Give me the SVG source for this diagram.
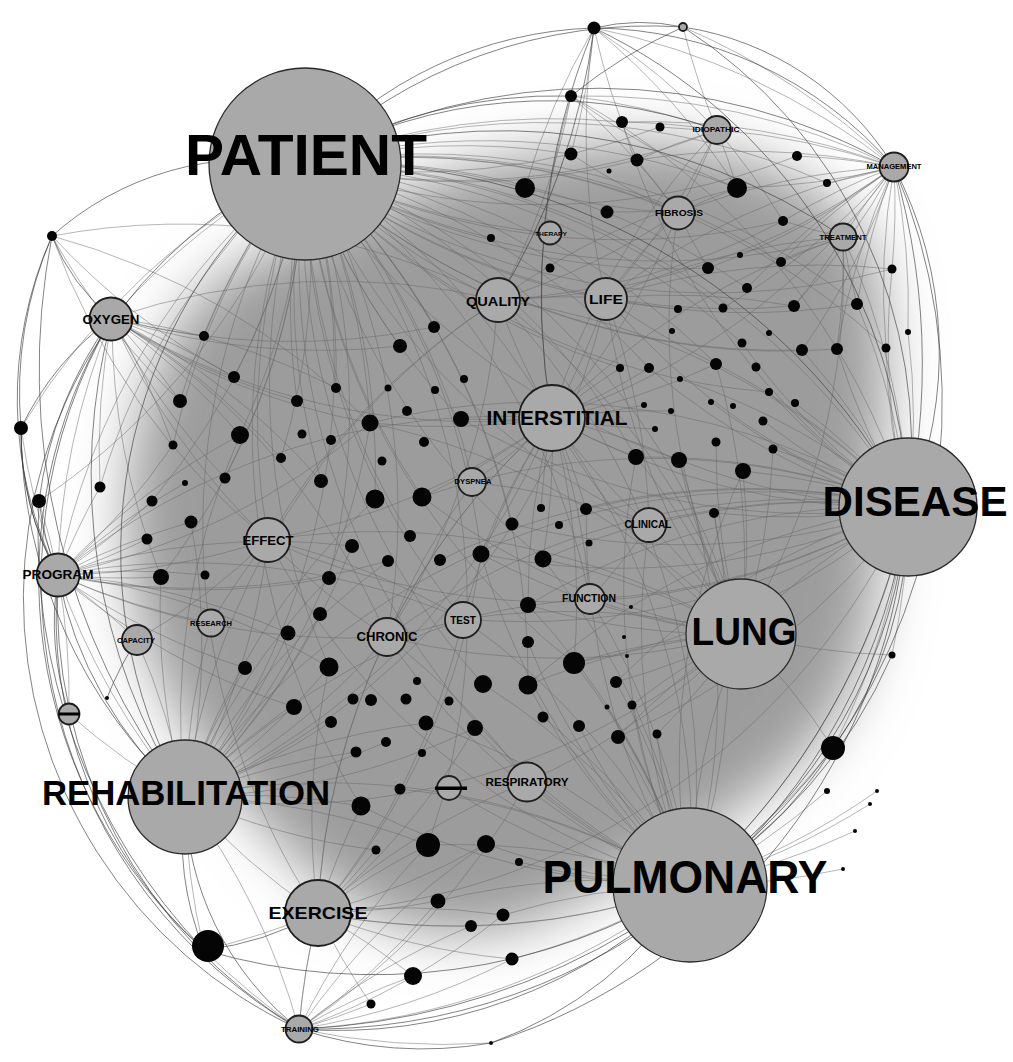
<svg xmlns="http://www.w3.org/2000/svg" width="1013" height="1062" viewBox="0 0 1013 1062">
<style>
.c path{fill:none;stroke:#666;stroke-width:.8;stroke-opacity:.6}
.c path.h{stroke:#3a3a3a;stroke-width:.9;stroke-opacity:.7}
.g{fill:#a9a9a9;stroke:#1e1e1e;stroke-width:1.8}
.G{fill:#a9a9a9;stroke:#2a2a2a;stroke-width:1.3}
.k circle{fill:#050505}
text{font-family:"Liberation Sans",Arial,Helvetica,sans-serif;font-weight:700;text-anchor:middle;fill:#000}
</style>
<defs>
<filter id="bl" x="-30%" y="-30%" width="160%" height="160%"><feGaussianBlur stdDeviation="28"/></filter>
</defs>
<rect width="1013" height="1062" fill="#fff"/>
<path d="M240 265 C330 225 430 170 540 155 C660 125 790 150 865 235 C900 330 880 430 880 520 C880 620 860 700 800 760 C720 830 640 870 560 910 C480 950 400 940 330 890 C260 830 200 760 160 680 C120 600 120 500 140 420 C160 340 190 295 240 265Z" fill="#9c9c9c" filter="url(#bl)"/>
<g id="connectors" class="c">
<path d="M305 164A700 700 0 0 1 552 418"/><path d="M305 164A700 700 0 0 0 498 300"/><path d="M305 164A700 700 0 0 1 606 298"/><path d="M305 164A700 700 0 0 0 268 540"/><path d="M305 164A700 700 0 0 1 387 637"/><path d="M305 164A700 700 0 0 0 463 619"/><path d="M305 164A700 700 0 0 1 908 507"/><path d="M305 164A700 700 0 0 0 690 885"/><path d="M305 164A700 700 0 0 1 741 634"/><path d="M305 164A700 700 0 0 1 185 797"/><path d="M305 164A700 700 0 0 0 318 913"/><path d="M305 164A700 700 0 0 0 112 318"/><path d="M305 164A700 700 0 0 0 58 575"/><path d="M305 164A700 700 0 0 1 525 188"/><path d="M305 164A700 700 0 0 0 491 238"/><path d="M305 164A700 700 0 0 1 434 327"/><path d="M305 164A700 700 0 0 0 400 346"/><path d="M305 164A700 700 0 0 1 234 377"/><path d="M305 164A700 700 0 0 0 180 401"/><path d="M305 164A700 700 0 0 1 336 388"/><path d="M305 164A700 700 0 0 0 297 401"/><path d="M305 164A700 700 0 0 1 370 423"/><path d="M305 164A700 700 0 0 0 461 419"/><path d="M305 164A700 700 0 0 1 240 435"/><path d="M305 164A700 700 0 0 0 321 481"/><path d="M305 164A700 700 0 0 1 375 499"/><path d="M305 164A700 700 0 0 0 422 497"/><path d="M305 164A700 700 0 0 1 481 554"/><path d="M305 164A700 700 0 0 0 543 559"/><path d="M305 164A700 700 0 0 1 329 578"/><path d="M305 164A700 700 0 0 0 329 667"/><path d="M305 164A700 700 0 0 1 528 685"/><path d="M305 164A700 700 0 0 0 574 663"/><path d="M305 164A700 700 0 0 1 636 457"/><path d="M305 164A700 700 0 0 0 679 460"/><path d="M305 164A700 700 0 0 1 716 364"/><path d="M305 164A700 700 0 0 0 708 268"/><path d="M305 164A700 700 0 0 1 678 213"/><path d="M305 164A700 700 0 0 0 550 233"/><path d="M305 164A700 700 0 0 1 473 482"/><path d="M305 164A700 700 0 0 0 649 525"/><path d="M305 164A700 700 0 0 1 590 599"/><path d="M305 164A700 700 0 0 0 483 684"/><path d="M305 164A700 700 0 0 1 428 845"/><path d="M305 164A700 700 0 0 0 361 806"/><path d="M305 164A700 700 0 0 1 571 154"/><path d="M305 164A700 700 0 0 0 637 160"/><path d="M305 164A700 700 0 0 1 747 288"/><path d="M305 164A700 700 0 0 0 802 350"/><path d="M305 164A700 700 0 0 1 161 577"/><path d="M305 164A700 700 0 0 0 204 336"/><path d="M305 164A700 700 0 0 1 281 458"/><path d="M305 164A700 700 0 0 0 410 536"/><path d="M305 164A700 700 0 0 1 512 524"/>
<path d="M305 164A700 700 0 0 1 622 122"/><path d="M305 164A700 700 0 0 0 660 127"/><path d="M305 164A700 700 0 0 1 737 188"/><path d="M305 164A700 700 0 0 0 797 156"/><path d="M305 164A700 700 0 0 1 827 183"/><path d="M305 164A700 700 0 0 0 783 221"/><path d="M305 164A700 700 0 0 1 781 262"/><path d="M305 164A700 700 0 0 0 794 306"/><path d="M305 164A700 700 0 0 1 857 304"/><path d="M305 164A700 700 0 0 0 837 349"/><path d="M305 164A700 700 0 0 1 886 348"/><path d="M305 164A700 700 0 0 0 892 269"/><path d="M305 164A700 700 0 0 1 723 308"/><path d="M305 164A700 700 0 0 0 678 309"/><path d="M305 164A700 700 0 0 1 742 343"/><path d="M305 164A700 700 0 0 0 769 392"/><path d="M305 164A700 700 0 0 1 649 368"/><path d="M305 164A700 700 0 0 0 620 368"/><path d="M305 164A700 700 0 0 0 717 130"/><path d="M305 164A700 700 0 0 0 843 237"/><path d="M305 164A700 700 0 0 0 21 428"/><path d="M305 164A700 700 0 0 1 39 501"/><path d="M305 164A700 700 0 0 0 100 487"/><path d="M305 164A700 700 0 0 1 152 501"/><path d="M305 164A700 700 0 0 0 173 445"/><path d="M305 164A700 700 0 0 1 225 478"/>
<path d="M594 28A700 700 0 0 0 525 188"/><path d="M594 28A700 700 0 0 1 571 154"/><path d="M594 28A700 700 0 0 0 637 160"/><path d="M594 28A700 700 0 0 1 737 188"/><path d="M594 28A700 700 0 0 0 606 298"/><path d="M571 96A700 700 0 0 1 498 300"/><path d="M571 96A700 700 0 0 0 552 418"/><path d="M571 96A700 700 0 0 1 678 213"/><path d="M571 96A700 700 0 0 0 737 188"/><path d="M498 300A700 700 0 0 1 737 188"/><path d="M498 300A700 700 0 0 0 783 221"/><path d="M606 298A700 700 0 0 1 794 306"/><path d="M606 298A700 700 0 0 0 857 304"/><path d="M606 298A700 700 0 0 1 892 269"/><path d="M112 318A700 700 0 0 1 387 637"/><path d="M112 318A700 700 0 0 0 161 577"/><path d="M52 236A700 700 0 0 1 498 300"/><path d="M908 507A700 700 0 0 0 571 96"/><path d="M908 507A700 700 0 0 1 622 122"/>
<path d="M908 507A700 700 0 0 1 552 418"/><path d="M908 507A700 700 0 0 0 741 634"/><path d="M908 507A700 700 0 0 1 690 885"/><path d="M908 507A700 700 0 0 0 649 525"/><path d="M908 507A700 700 0 0 1 590 599"/><path d="M908 507A700 700 0 0 0 498 300"/><path d="M908 507A700 700 0 0 1 606 298"/><path d="M908 507A700 700 0 0 0 636 457"/><path d="M908 507A700 700 0 0 1 679 460"/><path d="M908 507A700 700 0 0 0 743 471"/><path d="M908 507A700 700 0 0 1 714 513"/><path d="M908 507A700 700 0 0 0 773 449"/><path d="M908 507A700 700 0 0 1 763 421"/><path d="M908 507A700 700 0 0 0 802 350"/><path d="M908 507A700 700 0 0 1 837 349"/><path d="M908 507A700 700 0 0 0 857 304"/><path d="M908 507A700 700 0 0 1 886 348"/><path d="M908 507A700 700 0 0 0 716 364"/><path d="M908 507A700 700 0 0 1 649 368"/><path d="M908 507A700 700 0 0 0 543 559"/><path d="M908 507A700 700 0 0 1 574 663"/><path d="M908 507A700 700 0 0 0 528 605"/><path d="M908 507A700 700 0 0 1 481 554"/><path d="M908 507A700 700 0 0 0 422 497"/><path d="M908 507A700 700 0 0 1 461 419"/><path d="M908 507A700 700 0 0 0 370 423"/><path d="M908 507A700 700 0 0 1 268 540"/><path d="M908 507A700 700 0 0 0 387 637"/><path d="M908 507A700 700 0 0 1 463 619"/><path d="M908 507A700 700 0 0 0 185 797"/><path d="M908 507A700 700 0 0 1 318 913"/><path d="M908 507A700 700 0 0 1 833 748"/><path d="M908 507A700 700 0 0 1 892 655"/><path d="M908 507A700 700 0 0 0 843 237"/><path d="M908 507A700 700 0 0 1 892 269"/><path d="M908 507A700 700 0 0 0 908 332"/><path d="M908 507A700 700 0 0 0 528 685"/><path d="M908 507A700 700 0 0 1 618 737"/><path d="M908 507A700 700 0 0 0 616 682"/><path d="M908 507A700 700 0 0 1 769 392"/><path d="M908 507A700 700 0 0 0 795 403"/><path d="M908 507A700 700 0 0 1 742 343"/><path d="M908 507A700 700 0 0 0 680 379"/><path d="M908 507A700 700 0 0 1 711 402"/><path d="M908 507A700 700 0 0 0 440 560"/><path d="M908 507A700 700 0 0 1 512 524"/><path d="M908 507A700 700 0 0 0 586 509"/>
<path d="M690 885A700 700 0 0 1 741 634"/><path d="M690 885A700 700 0 0 0 552 418"/><path d="M690 885A700 700 0 0 1 527 782"/><path d="M690 885A700 700 0 0 0 463 619"/><path d="M690 885A700 700 0 0 1 387 637"/><path d="M690 885A700 700 0 0 0 590 599"/><path d="M690 885A700 700 0 0 1 649 525"/><path d="M690 885A700 700 0 0 0 574 663"/><path d="M690 885A700 700 0 0 1 528 685"/><path d="M690 885A700 700 0 0 0 483 684"/><path d="M690 885A700 700 0 0 1 475 728"/><path d="M690 885A700 700 0 0 0 618 737"/><path d="M690 885A700 700 0 0 1 579 726"/><path d="M690 885A700 700 0 0 0 616 682"/><path d="M690 885A700 700 0 0 1 657 734"/><path d="M690 885A700 700 0 0 0 528 605"/><path d="M690 885A700 700 0 0 1 528 642"/><path d="M690 885A700 700 0 0 0 428 845"/><path d="M690 885A700 700 0 0 1 486 844"/><path d="M690 885A700 700 0 0 0 503 915"/><path d="M690 885A700 700 0 0 1 512 959"/><path d="M690 885A700 700 0 0 0 833 748"/><path d="M690 885A700 700 0 0 0 827 791"/><path d="M690 885A700 700 0 0 0 855 831"/><path d="M690 885A700 700 0 0 0 843 869"/><path d="M690 885A700 700 0 0 0 877 791"/><path d="M690 885A700 700 0 0 0 870 804"/><path d="M690 885A700 700 0 0 1 318 913"/><path d="M690 885A700 700 0 0 0 185 797"/><path d="M690 885A700 700 0 0 1 299 1029"/><path d="M690 885A700 700 0 0 1 481 554"/><path d="M690 885A700 700 0 0 0 543 559"/><path d="M690 885A700 700 0 0 1 636 457"/><path d="M690 885A700 700 0 0 0 679 460"/><path d="M690 885A700 700 0 0 1 743 471"/><path d="M690 885A700 700 0 0 0 426 723"/><path d="M690 885A700 700 0 0 1 361 806"/><path d="M690 885A700 700 0 0 0 498 300"/><path d="M690 885A700 700 0 0 1 268 540"/><path d="M690 885A700 700 0 0 0 543 717"/><path d="M690 885A700 700 0 0 1 632 705"/><path d="M690 885A700 700 0 0 0 607 707"/><path d="M690 885A700 700 0 0 1 449 788"/><path d="M690 885A700 700 0 0 0 400 789"/><path d="M690 885A700 700 0 0 1 471 926"/><path d="M690 885A700 700 0 0 0 438 901"/><path d="M690 885A700 700 0 0 1 519 862"/><path d="M690 885A700 700 0 0 0 714 513"/><path d="M690 885A700 700 0 0 1 586 509"/>
<path d="M741 634A700 700 0 0 1 552 418"/><path d="M741 634A700 700 0 0 0 649 525"/><path d="M741 634A700 700 0 0 1 590 599"/><path d="M741 634A700 700 0 0 0 636 457"/><path d="M741 634A700 700 0 0 1 679 460"/><path d="M741 634A700 700 0 0 0 743 471"/><path d="M741 634A700 700 0 0 1 714 513"/><path d="M741 634A700 700 0 0 0 574 663"/><path d="M741 634A700 700 0 0 1 616 682"/><path d="M741 634A700 700 0 0 0 618 737"/><path d="M741 634A700 700 0 0 1 528 605"/><path d="M741 634A700 700 0 0 0 528 685"/><path d="M741 634A700 700 0 0 1 481 554"/><path d="M741 634A700 700 0 0 0 543 559"/><path d="M741 634A700 700 0 0 1 527 782"/><path d="M741 634A700 700 0 0 0 463 619"/><path d="M741 634A700 700 0 0 1 387 637"/><path d="M741 634A700 700 0 0 0 498 300"/><path d="M741 634A700 700 0 0 1 606 298"/><path d="M741 634A700 700 0 0 0 716 364"/><path d="M741 634A700 700 0 0 1 716 442"/><path d="M741 634A700 700 0 0 0 773 449"/><path d="M741 634A700 700 0 0 1 833 748"/><path d="M741 634A700 700 0 0 0 892 655"/><path d="M741 634A700 700 0 0 1 185 797"/><path d="M741 634A700 700 0 0 0 268 540"/><path d="M741 634A700 700 0 0 1 422 497"/><path d="M741 634A700 700 0 0 0 370 423"/><path d="M741 634A700 700 0 0 1 657 734"/><path d="M741 634A700 700 0 0 0 632 705"/>
<path d="M185 797A700 700 0 0 0 318 913"/><path d="M185 797A700 700 0 0 1 58 575"/><path d="M185 797A700 700 0 0 1 69 714"/><path d="M185 797A700 700 0 0 0 137 640"/><path d="M185 797A700 700 0 0 1 211 623"/><path d="M185 797A700 700 0 0 0 387 637"/><path d="M185 797A700 700 0 0 1 463 619"/><path d="M185 797A700 700 0 0 0 268 540"/><path d="M185 797A700 700 0 0 1 161 577"/><path d="M185 797A700 700 0 0 0 288 633"/><path d="M185 797A700 700 0 0 1 245 668"/><path d="M185 797A700 700 0 0 0 329 667"/><path d="M185 797A700 700 0 0 1 294 707"/><path d="M185 797A700 700 0 0 0 331 722"/><path d="M185 797A700 700 0 0 1 329 578"/><path d="M185 797A700 700 0 0 0 320 614"/><path d="M185 797A700 700 0 0 1 361 806"/><path d="M185 797A700 700 0 0 0 376 850"/><path d="M185 797A700 700 0 0 1 428 845"/><path d="M185 797A700 700 0 0 0 204 950"/><path d="M185 797A700 700 0 0 1 299 1029"/><path d="M185 797A700 700 0 0 0 552 418"/><path d="M185 797A700 700 0 0 1 498 300"/><path d="M185 797A700 700 0 0 0 606 298"/><path d="M185 797A700 700 0 0 1 375 499"/><path d="M185 797A700 700 0 0 0 352 546"/><path d="M185 797A700 700 0 0 1 388 561"/><path d="M185 797A700 700 0 0 0 370 423"/><path d="M185 797A700 700 0 0 1 356 752"/><path d="M185 797A700 700 0 0 0 386 742"/><path d="M185 797A700 700 0 0 1 426 723"/><path d="M185 797A700 700 0 0 0 475 728"/><path d="M185 797A700 700 0 0 1 240 435"/><path d="M185 797A700 700 0 0 0 191 522"/>
<path d="M318 913A700 700 0 0 1 428 845"/><path d="M318 913A700 700 0 0 0 438 901"/><path d="M318 913A700 700 0 0 1 413 976"/><path d="M318 913A700 700 0 0 0 371 1004"/><path d="M318 913A700 700 0 0 1 361 806"/><path d="M318 913A700 700 0 0 0 376 850"/><path d="M318 913A700 700 0 0 0 299 1029"/><path d="M318 913A700 700 0 0 1 387 637"/><path d="M318 913A700 700 0 0 0 463 619"/><path d="M318 913A700 700 0 0 1 527 782"/><path d="M318 913A700 700 0 0 0 486 844"/><path d="M318 913A700 700 0 0 1 503 915"/><path d="M318 913A700 700 0 0 0 512 959"/><path d="M318 913A700 700 0 0 1 329 667"/><path d="M318 913A700 700 0 0 0 475 728"/><path d="M318 913A700 700 0 0 1 552 418"/><path d="M318 913A700 700 0 0 0 481 554"/><path d="M318 913A700 700 0 0 1 204 950"/><path d="M318 913A700 700 0 0 0 471 926"/>
<path d="M58 575A700 700 0 0 1 112 318"/><path d="M58 575A700 700 0 0 0 268 540"/><path d="M58 575A700 700 0 0 1 137 640"/><path d="M58 575A700 700 0 0 0 211 623"/><path d="M58 575A700 700 0 0 1 69 714"/><path d="M58 575A700 700 0 0 0 161 577"/><path d="M58 575A700 700 0 0 1 205 575"/><path d="M58 575A700 700 0 0 0 147 539"/><path d="M58 575A700 700 0 0 1 191 522"/><path d="M58 575A700 700 0 0 0 245 668"/><path d="M58 575A700 700 0 0 1 288 633"/><path d="M58 575A700 700 0 0 0 329 578"/><path d="M58 575A700 700 0 0 1 240 435"/><path d="M58 575A700 700 0 0 0 152 501"/><path d="M58 575A700 700 0 0 1 100 487"/><path d="M58 575A700 700 0 0 0 39 501"/><path d="M58 575A700 700 0 0 1 21 428"/><path d="M58 575A700 700 0 0 0 387 637"/><path d="M58 575A700 700 0 0 1 552 418"/><path d="M58 575A700 700 0 0 0 370 423"/><path d="M58 575A700 700 0 0 1 352 546"/><path d="M58 575A700 700 0 0 0 388 561"/><path d="M58 575A700 700 0 0 1 329 667"/><path d="M58 575A700 700 0 0 0 294 707"/><path d="M58 575A700 700 0 0 1 463 619"/><path d="M58 575A700 700 0 0 0 173 445"/><path d="M58 575A700 700 0 0 1 185 483"/>
<path d="M112 318A700 700 0 0 1 234 377"/><path d="M112 318A700 700 0 0 0 204 336"/><path d="M112 318A700 700 0 0 1 180 401"/><path d="M112 318A700 700 0 0 0 297 401"/><path d="M112 318A700 700 0 0 1 240 435"/><path d="M112 318A700 700 0 0 0 370 423"/><path d="M112 318A700 700 0 0 1 336 388"/><path d="M112 318A700 700 0 0 0 268 540"/><path d="M112 318A700 700 0 0 1 173 445"/><path d="M112 318A700 700 0 0 0 225 478"/><path d="M112 318A700 700 0 0 1 321 481"/><path d="M112 318A700 700 0 0 0 552 418"/><path d="M112 318A700 700 0 0 1 498 300"/><path d="M112 318A700 700 0 0 0 400 346"/><path d="M112 318A700 700 0 0 0 100 487"/><path d="M112 318A700 700 0 0 1 281 458"/><path d="M112 318A700 700 0 0 0 434 327"/>
<path d="M52 236A700 700 0 0 0 234 377"/><path d="M52 236A700 700 0 0 0 180 401"/><path d="M52 236A700 700 0 0 0 268 540"/><path d="M52 236A700 700 0 0 1 370 423"/>
<path d="M894 167A700 700 0 0 0 843 237"/><path d="M894 167A700 700 0 0 0 717 130"/><path d="M894 167A700 700 0 0 0 678 213"/><path d="M894 167A700 700 0 0 1 737 188"/><path d="M894 167A700 700 0 0 0 797 156"/><path d="M894 167A700 700 0 0 1 827 183"/><path d="M894 167A700 700 0 0 0 783 221"/><path d="M894 167A700 700 0 0 1 892 269"/><path d="M894 167A700 700 0 0 0 781 262"/><path d="M894 167A700 700 0 0 1 794 306"/><path d="M894 167A700 700 0 0 0 857 304"/><path d="M894 167A700 700 0 0 1 802 350"/><path d="M894 167A700 700 0 0 0 837 349"/><path d="M894 167A700 700 0 0 1 552 418"/><path d="M894 167A700 700 0 0 0 606 298"/><path d="M894 167A700 700 0 0 1 708 268"/><path d="M894 167A700 700 0 0 0 637 160"/><path d="M894 167A700 700 0 0 0 622 122"/><path d="M894 167A700 700 0 0 0 571 96"/><path d="M894 167A700 700 0 0 0 594 28"/><path d="M894 167A700 700 0 0 0 683 27"/><path d="M894 167A700 700 0 0 1 498 300"/><path d="M894 167A700 700 0 0 0 747 288"/><path d="M894 167A700 700 0 0 1 723 308"/><path d="M894 167A700 700 0 0 0 886 348"/><path d="M894 167A700 700 0 0 1 908 332"/>
<path d="M299 1029A700 700 0 0 0 371 1004"/><path d="M299 1029A700 700 0 0 1 413 976"/><path d="M299 1029A700 700 0 0 0 438 901"/><path d="M299 1029A700 700 0 0 1 471 926"/><path d="M299 1029A700 700 0 0 0 512 959"/><path d="M299 1029A700 700 0 0 1 428 845"/><path d="M299 1029A700 700 0 0 0 491 1043"/><path d="M299 1029A700 700 0 0 1 318 913"/><path d="M299 1029A700 700 0 0 0 527 782"/><path d="M299 1029A700 700 0 0 1 486 844"/><path d="M299 1029A700 700 0 0 0 503 915"/><path d="M299 1029A700 700 0 0 1 204 950"/>
<path d="M717 130A700 700 0 0 1 678 213"/><path d="M717 130A700 700 0 0 0 622 122"/><path d="M717 130A700 700 0 0 1 660 127"/><path d="M717 130A700 700 0 0 0 637 160"/><path d="M717 130A700 700 0 0 1 737 188"/><path d="M717 130A700 700 0 0 0 552 418"/><path d="M717 130A700 700 0 0 1 606 298"/><path d="M717 130A700 700 0 0 0 594 28"/><path d="M717 130A700 700 0 0 1 683 27"/><path d="M717 130A700 700 0 0 0 571 96"/><path d="M717 130A700 700 0 0 1 783 221"/>
<path d="M678 213A700 700 0 0 1 552 418"/><path d="M678 213A700 700 0 0 0 606 298"/><path d="M678 213A700 700 0 0 1 498 300"/><path d="M678 213A700 700 0 0 0 607 212"/><path d="M678 213A700 700 0 0 1 737 188"/><path d="M678 213A700 700 0 0 0 708 268"/><path d="M678 213A700 700 0 0 1 571 154"/><path d="M678 213A700 700 0 0 0 637 160"/><path d="M678 213A700 700 0 0 1 525 188"/><path d="M678 213A700 700 0 0 0 741 634"/>
<path d="M843 237A700 700 0 0 1 783 221"/><path d="M843 237A700 700 0 0 0 781 262"/><path d="M843 237A700 700 0 0 1 794 306"/><path d="M843 237A700 700 0 0 0 857 304"/><path d="M843 237A700 700 0 0 1 837 349"/><path d="M843 237A700 700 0 0 0 552 418"/><path d="M843 237A700 700 0 0 1 741 634"/><path d="M843 237A700 700 0 0 0 606 298"/>
<path d="M552 418A700 700 0 0 1 498 300"/><path d="M552 418A700 700 0 0 0 606 298"/><path d="M552 418A700 700 0 0 1 473 482"/><path d="M552 418A700 700 0 0 0 649 525"/><path d="M552 418A700 700 0 0 1 590 599"/><path d="M552 418A700 700 0 0 0 463 619"/><path d="M552 418A700 700 0 0 1 461 419"/><path d="M552 418A700 700 0 0 0 636 457"/><path d="M552 418A700 700 0 0 1 679 460"/><path d="M552 418A700 700 0 0 0 649 368"/><path d="M552 418A700 700 0 0 1 620 368"/><path d="M552 418A700 700 0 0 0 644 405"/><path d="M552 418A700 700 0 0 1 671 411"/><path d="M552 418A700 700 0 0 0 655 429"/><path d="M552 418A700 700 0 0 1 422 497"/><path d="M552 418A700 700 0 0 0 481 554"/><path d="M552 418A700 700 0 0 1 543 559"/><path d="M552 418A700 700 0 0 0 541 508"/><path d="M552 418A700 700 0 0 1 586 509"/><path d="M552 418A700 700 0 0 0 528 605"/><path d="M552 418A700 700 0 0 1 574 663"/><path d="M552 418A700 700 0 0 0 387 637"/><path d="M552 418A700 700 0 0 1 268 540"/><path d="M552 418A700 700 0 0 0 716 364"/><path d="M552 418A700 700 0 0 1 370 423"/>
<path d="M498 300A700 700 0 0 1 606 298"/><path d="M498 300A700 700 0 0 0 268 540"/><path d="M498 300A700 700 0 0 1 387 637"/><path d="M606 298A700 700 0 0 1 649 525"/><path d="M606 298A700 700 0 0 0 716 364"/><path d="M268 540A700 700 0 0 0 387 637"/><path d="M268 540A700 700 0 0 1 463 619"/><path d="M387 637A700 700 0 0 0 463 619"/><path d="M463 619A700 700 0 0 1 590 599"/><path d="M590 599A700 700 0 0 0 649 525"/><path d="M387 637A700 700 0 0 1 527 782"/><path d="M268 540A700 700 0 0 1 137 640"/><path d="M268 540A700 700 0 0 0 211 623"/><path d="M473 482A700 700 0 0 1 649 525"/><path d="M473 482A700 700 0 0 0 387 637"/>
<path class="h" d="M305 164A400 400 0 0 1 594 28"/><path class="h" d="M594 28A200 200 0 0 1 683 27"/><path class="h" d="M594 28A400 400 0 0 1 894 167"/><path class="h" d="M683 27A300 300 0 0 1 894 167"/><path class="h" d="M683 27A500 500 0 0 1 908 507"/><path class="h" d="M594 28A550 550 0 0 1 908 507"/><path class="h" d="M894 167A400 400 0 0 1 908 507"/><path class="h" d="M894 167A700 700 0 0 1 690 885"/><path class="h" d="M908 507A500 500 0 0 1 690 885"/><path class="h" d="M908 507A400 400 0 0 1 833 748"/><path class="h" d="M894 167A600 600 0 0 1 833 748"/><path class="h" d="M690 885A500 500 0 0 1 299 1029"/><path class="h" d="M690 885A600 600 0 0 1 204 950"/><path class="h" d="M908 507A600 600 0 0 1 299 1029"/><path class="h" d="M299 1029A300 300 0 0 1 185 797"/><path class="h" d="M185 797A400 400 0 0 1 58 575"/><path class="h" d="M58 575A300 300 0 0 1 21 428"/><path class="h" d="M21 428A300 300 0 0 1 112 318"/><path class="h" d="M112 318A200 200 0 0 1 52 236"/><path class="h" d="M52 236A300 300 0 0 1 305 164"/><path class="h" d="M299 1029A500 500 0 0 1 58 575"/><path class="h" d="M299 1029A520 520 0 0 1 112 318"/><path class="h" d="M299 1029A475 475 0 0 1 305 164"/><path class="h" d="M204 950A450 450 0 0 1 58 575"/><path class="h" d="M204 950A500 500 0 0 1 112 318"/><path class="h" d="M185 797A500 500 0 0 1 305 164"/><path class="h" d="M305 164A600 600 0 0 1 894 167"/><path class="h" d="M305 164A650 650 0 0 1 908 507"/><path class="h" d="M305 164A500 500 0 0 1 717 130"/><path class="h" d="M305 164A600 600 0 0 1 843 237"/><path class="h" d="M305 164A500 500 0 0 1 683 27"/><path class="h" d="M21 428A300 300 0 0 0 58 575"/><path class="h" d="M39 501A300 300 0 0 0 58 575"/><path class="h" d="M39 501A400 400 0 0 1 112 318"/><path class="h" d="M204 950A300 300 0 0 0 318 913"/><path class="h" d="M204 950A300 300 0 0 1 185 797"/><path class="h" d="M833 748A400 400 0 0 1 690 885"/><path class="h" d="M892 655A500 500 0 0 1 690 885"/><path class="h" d="M690 885A400 400 0 0 1 491 1043"/><path class="h" d="M491 1043A400 400 0 0 1 299 1029"/><path class="h" d="M683 27A500 500 0 0 0 571 96"/><path class="h" d="M571 96A500 500 0 0 0 305 164"/><path class="h" d="M594 28A700 700 0 0 0 552 418"/><path class="h" d="M594 28A700 700 0 0 1 498 300"/><path class="h" d="M908 507A600 600 0 0 1 491 1043"/><path class="h" d="M833 748A700 700 0 0 1 299 1029"/><path class="h" d="M52 236A400 400 0 0 0 21 428"/><path class="h" d="M69 714A300 300 0 0 1 58 575"/><path class="h" d="M107 698A300 300 0 0 1 137 640"/>
<path class="h" d="M21 428A500 500 0 0 0 185 797"/><path class="h" d="M39 501A600 600 0 0 0 204 950"/><path class="h" d="M112 318A600 600 0 0 0 185 797"/><path class="h" d="M52 236A400 400 0 0 0 58 575"/><path class="h" d="M52 236A700 700 0 0 0 185 797"/>
</g>
<g id="nodes">
<g id="n-patient"><circle class="G" cx="305" cy="164" r="96"/><text x="306" y="175" font-size="57" textLength="242" lengthAdjust="spacingAndGlyphs">PATIENT</text></g>
<g id="n-disease"><circle class="G" cx="908" cy="507" r="69"/><text x="915" y="516" font-size="43" textLength="185" lengthAdjust="spacingAndGlyphs">DISEASE</text></g>
<g id="n-lung"><circle class="G" cx="741" cy="634" r="55"/><text x="744" y="645" font-size="39" textLength="105" lengthAdjust="spacingAndGlyphs">LUNG</text></g>
<g id="n-pulmonary"><circle class="G" cx="690" cy="885" r="77"/><text x="685" y="893" font-size="46" textLength="285" lengthAdjust="spacingAndGlyphs">PULMONARY</text></g>
<g id="n-rehabilitation"><circle class="G" cx="185" cy="797" r="57"/><text x="186" y="805" font-size="35" textLength="288" lengthAdjust="spacingAndGlyphs">REHABILITATION</text></g>
<g id="n-interstitial"><circle class="g" cx="552" cy="418" r="33"/><text x="557" y="425" font-size="20" textLength="141" lengthAdjust="spacingAndGlyphs">INTERSTITIAL</text></g>
<g id="n-exercise"><circle class="g" cx="318" cy="913" r="33"/><text x="318" y="919" font-size="17" textLength="99" lengthAdjust="spacingAndGlyphs">EXERCISE</text></g>
<g id="n-quality"><circle class="g" cx="498" cy="300" r="22"/><text x="498" y="306" font-size="13" textLength="64" lengthAdjust="spacingAndGlyphs">QUALITY</text></g>
<g id="n-life"><circle class="g" cx="606" cy="299" r="21"/><text x="606" y="304" font-size="13" textLength="34" lengthAdjust="spacingAndGlyphs">LIFE</text></g>
<g id="n-effect"><circle class="g" cx="268" cy="540" r="22"/><text x="268" y="545" font-size="13" textLength="51" lengthAdjust="spacingAndGlyphs">EFFECT</text></g>
<g id="n-chronic"><circle class="g" cx="387" cy="637" r="19"/><text x="387" y="641" font-size="12" textLength="61" lengthAdjust="spacingAndGlyphs">CHRONIC</text></g>
<g id="n-test"><circle class="g" cx="463" cy="620" r="18"/><text x="463" y="624" font-size="10">TEST</text></g>
<g id="n-function"><circle class="g" cx="590" cy="599" r="15"/><text x="589" y="602" font-size="10" textLength="54" lengthAdjust="spacingAndGlyphs">FUNCTION</text></g>
<g id="n-clinical"><circle class="g" cx="649" cy="525" r="17"/><text x="648" y="528" font-size="10" textLength="47" lengthAdjust="spacingAndGlyphs">CLINICAL</text></g>
<g id="n-dyspnea"><circle class="g" cx="472" cy="482" r="14"/><text x="473" y="484" font-size="6.5" textLength="37" lengthAdjust="spacingAndGlyphs">DYSPNEA</text></g>
<g id="n-respiratory"><circle class="g" cx="527" cy="782" r="19.5"/><text x="527" y="786" font-size="11" textLength="83" lengthAdjust="spacingAndGlyphs">RESPIRATORY</text></g>
<g id="n-session"><circle class="g" cx="449" cy="788" r="12"/><rect x="435" y="786.5" width="32" height="3.5" fill="#000"/></g>
<g id="n-oxygen"><circle class="g" cx="111" cy="319" r="21.5"/><text x="111" y="324" font-size="12" textLength="57" lengthAdjust="spacingAndGlyphs">OXYGEN</text></g>
<g id="n-program"><circle class="g" cx="58" cy="575" r="21.5"/><text x="58" y="579" font-size="13" textLength="71" lengthAdjust="spacingAndGlyphs">PROGRAM</text></g>
<g id="n-capacity"><circle class="g" cx="137" cy="640" r="15"/><text x="136" y="643" font-size="7" textLength="38" lengthAdjust="spacingAndGlyphs">CAPACITY</text></g>
<g id="n-research"><circle class="g" cx="211" cy="623" r="13.5"/><text x="211" y="626" font-size="7" textLength="42" lengthAdjust="spacingAndGlyphs">RESEARCH</text></g>
<g id="n-unlabeled"><circle class="g" cx="69" cy="714" r="10.5"/><rect x="59" y="712.5" width="21" height="3" fill="#000"/></g>
<g id="n-training"><circle class="g" cx="299" cy="1029" r="13.5"/><text x="300" y="1032" font-size="7" textLength="38" lengthAdjust="spacingAndGlyphs">TRAINING</text></g>
<g id="n-idiopathic"><circle class="g" cx="717" cy="130" r="14"/><text x="716" y="132" font-size="7" textLength="47" lengthAdjust="spacingAndGlyphs">IDIOPATHIC</text></g>
<g id="n-management"><circle class="g" cx="894" cy="167" r="14.5"/><text x="894" y="169" font-size="7" textLength="55" lengthAdjust="spacingAndGlyphs">MANAGEMENT</text></g>
<g id="n-fibrosis"><circle class="g" cx="678" cy="213" r="16.5"/><text x="679" y="216" font-size="8.5" textLength="48" lengthAdjust="spacingAndGlyphs">FIBROSIS</text></g>
<g id="n-treatment"><circle class="g" cx="843" cy="237" r="13.5"/><text x="843" y="240" font-size="7" textLength="47" lengthAdjust="spacingAndGlyphs">TREATMENT</text></g>
<g id="n-therapy"><circle class="g" cx="550" cy="233" r="11.5"/><text x="551" y="236" font-size="6" textLength="32" lengthAdjust="spacingAndGlyphs">THERAPY</text></g>
<g id="n-top"><circle class="g" cx="683" cy="27" r="4" stroke-width="1.2"/></g>
<g class="k">
<g id="d1"><circle cx="594" cy="28" r="6.5"/></g><g id="d2"><circle cx="571" cy="96" r="6"/></g><g id="d3"><circle cx="622" cy="122" r="6"/></g><g id="d4"><circle cx="660" cy="127" r="4.5"/></g><g id="d5"><circle cx="571" cy="154" r="6.5"/></g><g id="d6"><circle cx="637" cy="160" r="6.5"/></g><g id="d7"><circle cx="609" cy="171" r="2.5"/></g><g id="d8"><circle cx="525" cy="188" r="10"/></g><g id="d9"><circle cx="737" cy="188" r="10"/></g><g id="d10"><circle cx="797" cy="156" r="5"/></g>
<g id="d11"><circle cx="827" cy="183" r="4"/></g><g id="d12"><circle cx="607" cy="212" r="6.5"/></g><g id="d13"><circle cx="491" cy="238" r="4"/></g><g id="d14"><circle cx="783" cy="221" r="5"/></g><g id="d15"><circle cx="550" cy="268" r="4.5"/></g><g id="d16"><circle cx="892" cy="269" r="4.5"/></g><g id="d17"><circle cx="708" cy="268" r="6"/></g><g id="d18"><circle cx="740" cy="255" r="3"/></g><g id="d19"><circle cx="781" cy="262" r="5"/></g><g id="d20"><circle cx="747" cy="288" r="5"/></g>
<g id="d21"><circle cx="794" cy="306" r="6"/></g><g id="d22"><circle cx="857" cy="304" r="6"/></g><g id="d23"><circle cx="723" cy="308" r="4.5"/></g><g id="d24"><circle cx="678" cy="309" r="4"/></g><g id="d25"><circle cx="672" cy="331" r="3"/></g><g id="d26"><circle cx="769" cy="333" r="3"/></g><g id="d27"><circle cx="742" cy="343" r="4.5"/></g><g id="d28"><circle cx="802" cy="350" r="6"/></g><g id="d29"><circle cx="837" cy="349" r="6"/></g><g id="d30"><circle cx="886" cy="348" r="4.5"/></g>
<g id="d31"><circle cx="908" cy="332" r="3"/></g><g id="d32"><circle cx="716" cy="364" r="6"/></g><g id="d33"><circle cx="756" cy="367" r="4.5"/></g><g id="d34"><circle cx="649" cy="368" r="5"/></g><g id="d35"><circle cx="620" cy="368" r="4"/></g><g id="d36"><circle cx="680" cy="379" r="3"/></g><g id="d37"><circle cx="711" cy="402" r="3"/></g><g id="d38"><circle cx="733" cy="406" r="3"/></g><g id="d39"><circle cx="769" cy="392" r="4"/></g><g id="d40"><circle cx="795" cy="403" r="4"/></g>
<g id="d41"><circle cx="763" cy="421" r="4.5"/></g><g id="d42"><circle cx="644" cy="405" r="3"/></g><g id="d43"><circle cx="671" cy="411" r="3"/></g><g id="d44"><circle cx="655" cy="429" r="3"/></g><g id="d45"><circle cx="716" cy="442" r="4.5"/></g><g id="d46"><circle cx="773" cy="449" r="4.5"/></g><g id="d47"><circle cx="636" cy="457" r="8"/></g><g id="d48"><circle cx="679" cy="460" r="8"/></g><g id="d49"><circle cx="743" cy="471" r="8"/></g><g id="d50"><circle cx="714" cy="513" r="5"/></g>
<g id="d51"><circle cx="434" cy="327" r="6"/></g><g id="d52"><circle cx="400" cy="346" r="7"/></g><g id="d53"><circle cx="234" cy="377" r="6"/></g><g id="d54"><circle cx="204" cy="336" r="5"/></g><g id="d55"><circle cx="180" cy="401" r="7"/></g><g id="d56"><circle cx="336" cy="388" r="5"/></g><g id="d57"><circle cx="388" cy="388" r="3.5"/></g><g id="d58"><circle cx="435" cy="390" r="4"/></g><g id="d59"><circle cx="464" cy="379" r="4"/></g><g id="d60"><circle cx="297" cy="401" r="6"/></g>
<g id="d61"><circle cx="370" cy="423" r="8.5"/></g><g id="d62"><circle cx="407" cy="411" r="5"/></g><g id="d63"><circle cx="461" cy="419" r="8"/></g><g id="d64"><circle cx="240" cy="435" r="9"/></g><g id="d65"><circle cx="302" cy="434" r="4.5"/></g><g id="d66"><circle cx="331" cy="440" r="5"/></g><g id="d67"><circle cx="424" cy="442" r="5"/></g><g id="d68"><circle cx="173" cy="445" r="4.5"/></g><g id="d69"><circle cx="281" cy="458" r="5"/></g><g id="d70"><circle cx="382" cy="461" r="4.5"/></g>
<g id="d71"><circle cx="321" cy="481" r="7"/></g><g id="d72"><circle cx="225" cy="478" r="5.5"/></g><g id="d73"><circle cx="185" cy="483" r="3"/></g><g id="d74"><circle cx="100" cy="487" r="5.5"/></g><g id="d75"><circle cx="39" cy="501" r="7"/></g><g id="d76"><circle cx="21" cy="428" r="7"/></g><g id="d77"><circle cx="152" cy="501" r="5.5"/></g><g id="d78"><circle cx="191" cy="522" r="6.5"/></g><g id="d79"><circle cx="147" cy="539" r="5.5"/></g><g id="d80"><circle cx="375" cy="499" r="9.5"/></g>
<g id="d81"><circle cx="422" cy="497" r="9.5"/></g><g id="d82"><circle cx="352" cy="546" r="7"/></g><g id="d83"><circle cx="410" cy="536" r="6"/></g><g id="d84"><circle cx="388" cy="561" r="6"/></g><g id="d85"><circle cx="440" cy="560" r="6"/></g><g id="d86"><circle cx="481" cy="554" r="8.5"/></g><g id="d87"><circle cx="543" cy="559" r="8.5"/></g><g id="d88"><circle cx="512" cy="524" r="6.5"/></g><g id="d89"><circle cx="541" cy="508" r="4"/></g><g id="d90"><circle cx="559" cy="525" r="4"/></g>
<g id="d91"><circle cx="586" cy="509" r="6"/></g><g id="d92"><circle cx="589" cy="543" r="3.5"/></g><g id="d93"><circle cx="329" cy="578" r="7"/></g><g id="d94"><circle cx="161" cy="577" r="8"/></g><g id="d95"><circle cx="205" cy="575" r="4.5"/></g><g id="d96"><circle cx="320" cy="614" r="7"/></g><g id="d97"><circle cx="288" cy="633" r="7.5"/></g><g id="d98"><circle cx="245" cy="668" r="7"/></g><g id="d99"><circle cx="329" cy="667" r="9.5"/></g><g id="d100"><circle cx="294" cy="707" r="8"/></g>
<g id="d101"><circle cx="331" cy="722" r="6"/></g><g id="d102"><circle cx="353" cy="699" r="5.5"/></g><g id="d103"><circle cx="371" cy="700" r="6"/></g><g id="d104"><circle cx="406" cy="699" r="5.5"/></g><g id="d105"><circle cx="356" cy="752" r="5.5"/></g><g id="d106"><circle cx="386" cy="742" r="5"/></g><g id="d107"><circle cx="422" cy="753" r="4"/></g><g id="d108"><circle cx="426" cy="723" r="7.5"/></g><g id="d109"><circle cx="449" cy="701" r="4.5"/></g><g id="d110"><circle cx="417" cy="681" r="4"/></g>
<g id="d111"><circle cx="475" cy="728" r="8"/></g><g id="d112"><circle cx="483" cy="684" r="9"/></g><g id="d113"><circle cx="528" cy="685" r="9.5"/></g><g id="d114"><circle cx="528" cy="642" r="6"/></g><g id="d115"><circle cx="528" cy="605" r="8"/></g><g id="d116"><circle cx="574" cy="663" r="11"/></g><g id="d117"><circle cx="543" cy="717" r="5.5"/></g><g id="d118"><circle cx="579" cy="726" r="6"/></g><g id="d119"><circle cx="616" cy="682" r="6"/></g><g id="d120"><circle cx="632" cy="705" r="4.5"/></g>
<g id="d121"><circle cx="618" cy="737" r="7"/></g><g id="d122"><circle cx="657" cy="734" r="4.5"/></g><g id="d123"><circle cx="607" cy="707" r="2.5"/></g><g id="d124"><circle cx="624" cy="637" r="2"/></g><g id="d125"><circle cx="627" cy="656" r="2"/></g><g id="d126"><circle cx="631" cy="607" r="2"/></g><g id="d127"><circle cx="361" cy="806" r="9.5"/></g><g id="d128"><circle cx="400" cy="789" r="5.5"/></g><g id="d129"><circle cx="376" cy="850" r="4.5"/></g><g id="d130"><circle cx="428" cy="845" r="12"/></g>
<g id="d131"><circle cx="486" cy="844" r="9"/></g><g id="d132"><circle cx="519" cy="862" r="4"/></g><g id="d133"><circle cx="438" cy="901" r="7.5"/></g><g id="d134"><circle cx="503" cy="915" r="6.5"/></g><g id="d135"><circle cx="471" cy="926" r="6"/></g><g id="d136"><circle cx="512" cy="959" r="6.5"/></g><g id="d137"><circle cx="413" cy="976" r="9"/></g><g id="d138"><circle cx="371" cy="1004" r="4.5"/></g><g id="d139"><circle cx="208" cy="946" r="16"/></g><g id="d140"><circle cx="833" cy="748" r="12"/></g>
<g id="d141"><circle cx="827" cy="791" r="3"/></g><g id="d142"><circle cx="892" cy="655" r="3.5"/></g><g id="d143"><circle cx="870" cy="804" r="2"/></g><g id="d144"><circle cx="855" cy="831" r="2"/></g><g id="d145"><circle cx="843" cy="869" r="2"/></g><g id="d146"><circle cx="877" cy="791" r="2"/></g><g id="d147"><circle cx="491" cy="1043" r="2"/></g><g id="d148"><circle cx="107" cy="698" r="2"/></g><g id="d149"><circle cx="52" cy="236" r="5"/></g>
</g>
</g>
</svg>
